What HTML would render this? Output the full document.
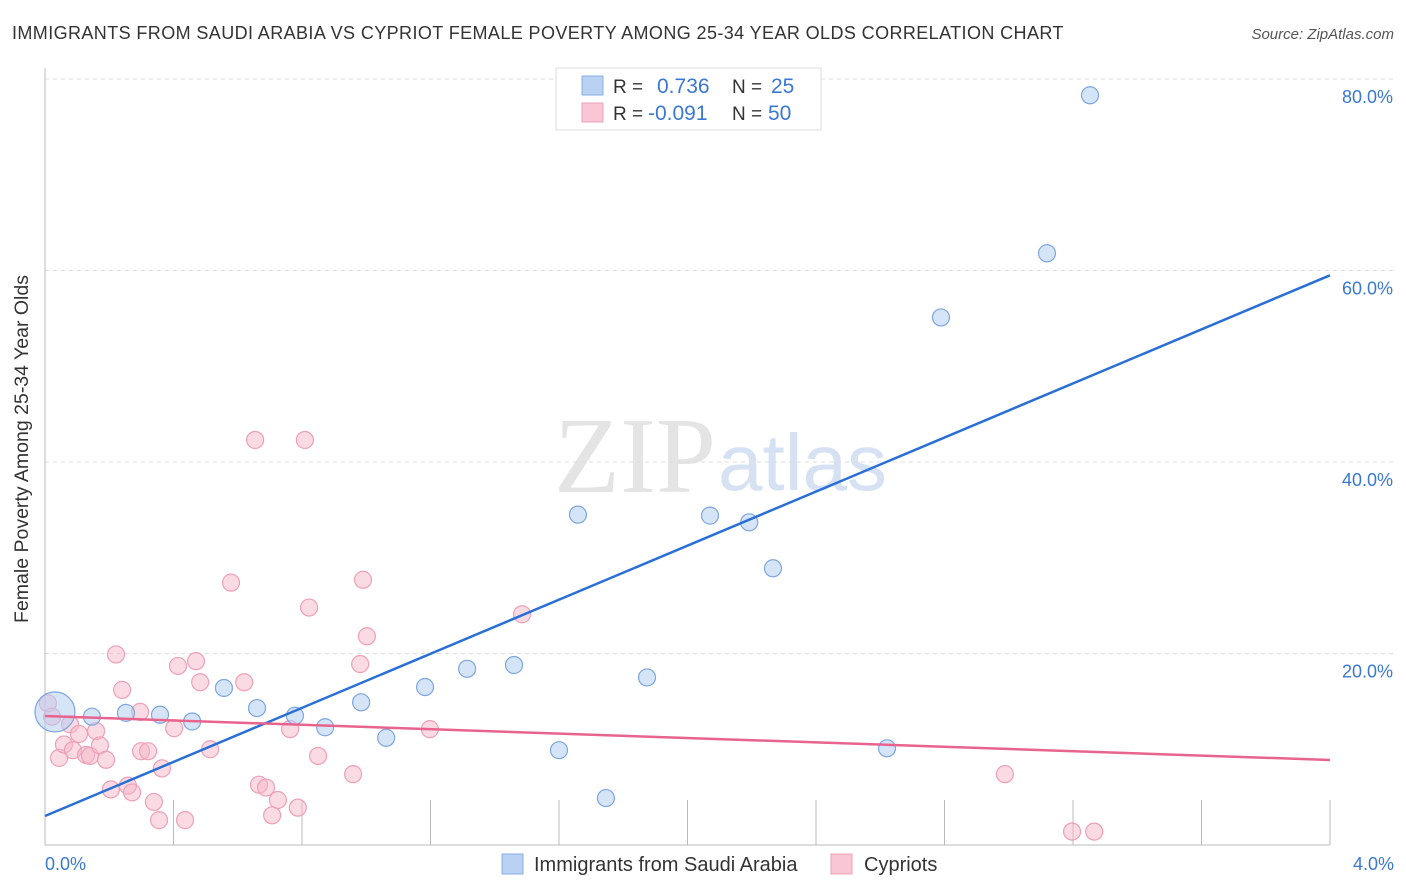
<!DOCTYPE html>
<html><head><meta charset="utf-8"><style>
body{margin:0;background:#fff;font-family:"Liberation Sans",sans-serif}
svg{display:block}
</style></head><body>
<svg width="1406" height="892">
<text x="12" y="39" font-size="18" fill="#333" letter-spacing="0.4">IMMIGRANTS FROM SAUDI ARABIA VS CYPRIOT FEMALE POVERTY AMONG 25-34 YEAR OLDS CORRELATION CHART</text>
<text x="1394" y="39" font-size="15" fill="#555" font-style="italic" text-anchor="end">Source: ZipAtlas.com</text>
<text x="716" y="492" font-size="108" fill="#e4e4e4" font-family="Liberation Serif,serif" text-anchor="end">ZIP</text>
<text x="718" y="490" font-size="80" fill="#d6e2f3">atlas</text>
<g id="grid"></g>
<line x1="45" y1="68" x2="45" y2="845" stroke="#bbb"/>
<line x1="45" y1="845" x2="1330" y2="845" stroke="#bbb"/>
<text x="35" y="456" font-size="19.5" fill="#333" text-anchor="middle" transform="rotate(-90 28 456)">Female Poverty Among 25-34 Year Olds</text>
<text x="45" y="870" font-size="18" fill="#3a78d4">0.0%</text>
<text x="1394" y="870" font-size="18" fill="#3a78d4" text-anchor="end">4.0%</text>
<g id="pts"></g>
<g id="lines"></g>
<g>
<rect x="556" y="68" width="265" height="62" fill="#fff" stroke="#ddd"/>
<rect x="582" y="76" width="21" height="19" fill="#b9d2f3" stroke="#88aee6"/>
<rect x="582" y="103" width="21" height="19" fill="#f8c6d4" stroke="#eea0b8"/>
<text x="613" y="93" font-size="19" fill="#333">R = </text><text x="657" y="93" font-size="21" fill="#3a78d4">0.736</text>
<text x="732" y="93" font-size="19" fill="#333">N = </text><text x="771" y="93" font-size="21" fill="#3a78d4">25</text>
<text x="613" y="120" font-size="19" fill="#333">R = </text><text x="648" y="120" font-size="21" fill="#3a78d4">-0.091</text>
<text x="732" y="120" font-size="19" fill="#333">N = </text><text x="768" y="120" font-size="21" fill="#3a78d4">50</text>
</g>
<g>
<rect x="502" y="854" width="21" height="20" fill="#b9d2f3" stroke="#88aee6"/>
<text x="534" y="871" font-size="20" fill="#333">Immigrants from Saudi Arabia</text>
<rect x="831" y="854" width="21" height="20" fill="#f8c6d4" stroke="#eea0b8"/>
<text x="864" y="871" font-size="20" fill="#333">Cypriots</text>
</g>
</svg>
<script>
const yTicks=[20,40,60,80];
const xTickCount=10;
const blueX=[0.031,0.146,0.252,0.358,0.458,0.557,0.660,0.778,0.872,0.984,1.062,1.183,1.314,1.460,1.600,1.659,1.746,1.874,2.070,2.192,2.266,2.621,2.789,3.119,3.253];
const blueY=[13.9,13.4,13.8,13.6,12.9,16.4,14.3,13.5,12.3,14.9,11.2,16.5,18.4,18.8,9.9,34.5,4.9,17.5,34.4,33.7,28.9,10.1,55.1,61.8,78.3];
const pinkX=[0.009,0.022,0.044,0.059,0.078,0.087,0.106,0.128,0.140,0.159,0.171,0.190,0.205,0.221,0.240,0.258,0.271,0.296,0.299,0.321,0.339,0.355,0.364,0.402,0.414,0.436,0.470,0.483,0.514,0.579,0.620,0.654,0.666,0.688,0.707,0.725,0.763,0.787,0.809,0.822,0.850,0.959,0.981,0.990,1.002,1.198,1.485,2.988,3.197,3.266];
const pinkY=[14.8,13.4,9.1,10.5,12.6,9.9,11.6,9.4,9.3,11.9,10.4,8.9,5.8,19.9,16.2,6.2,5.5,13.9,9.8,9.8,4.5,2.6,8.0,12.2,18.7,2.6,19.2,17.0,10.0,27.4,17.0,42.3,6.3,6.0,3.1,4.7,12.1,3.9,42.3,24.8,9.3,7.4,18.9,27.7,21.8,12.1,24.1,7.4,1.4,1.4];
const blueLine=[3.03,59.5];
const pinkLine=[13.47,8.88];
const NS="http://www.w3.org/2000/svg";
const sx=v=>45+v/4*1285, sy=v=>845-v/20*191.5;
function mk(t,a,p){const e=document.createElementNS(NS,t);for(const k in a)e.setAttribute(k,a[k]);p.appendChild(e);return e;}
const g=document.getElementById('grid');
yTicks.forEach(t=>{
 const l=mk('line',{x1:45,x2:1394,y1:sy(t),y2:sy(t),stroke:'#ddd','stroke-dasharray':'4,4'},g);
 
 
 const tx=mk('text',{x:1393,y:sy(t)+24,'font-size':18,fill:'#3a78d4','text-anchor':'end'},g);
 tx.textContent=t.toFixed(1)+'%';
 
 
});
for(let i=1;i<=xTickCount;i++){
 const x=sx(i*4/xTickCount);
 const l=mk('line',{x1:x,x2:x,y1:800,y2:845,stroke:'#bbb'},g);
 
 
}
const p=document.getElementById('pts');
pinkX.forEach((x,i)=>{
 const c=mk('circle',{cx:sx(x),cy:sy(pinkY[i]),r:8.5,fill:'rgba(246,182,200,0.5)',stroke:'#eea0b8','stroke-width':1.2},p);
 
 
});
blueX.forEach((x,i)=>{
 const c=mk('circle',{cx:sx(x),cy:sy(blueY[i]),r:i==0?20:8.5,fill:'rgba(180,206,242,0.55)',stroke:'#7ea6e0','stroke-width':1.2},p);
 
 
});
const L=document.getElementById('lines');
const bl=mk('line',{x1:sx(0),y1:sy(blueLine[0]),x2:sx(4),y2:sy(blueLine[1]),stroke:'#2a6fd6','stroke-width':2.5},L);


const pl=mk('line',{x1:sx(0),y1:sy(pinkLine[0]),x2:sx(4),y2:sy(pinkLine[1]),stroke:'#e8638e','stroke-width':2.5},L);


</script>
</body></html>
